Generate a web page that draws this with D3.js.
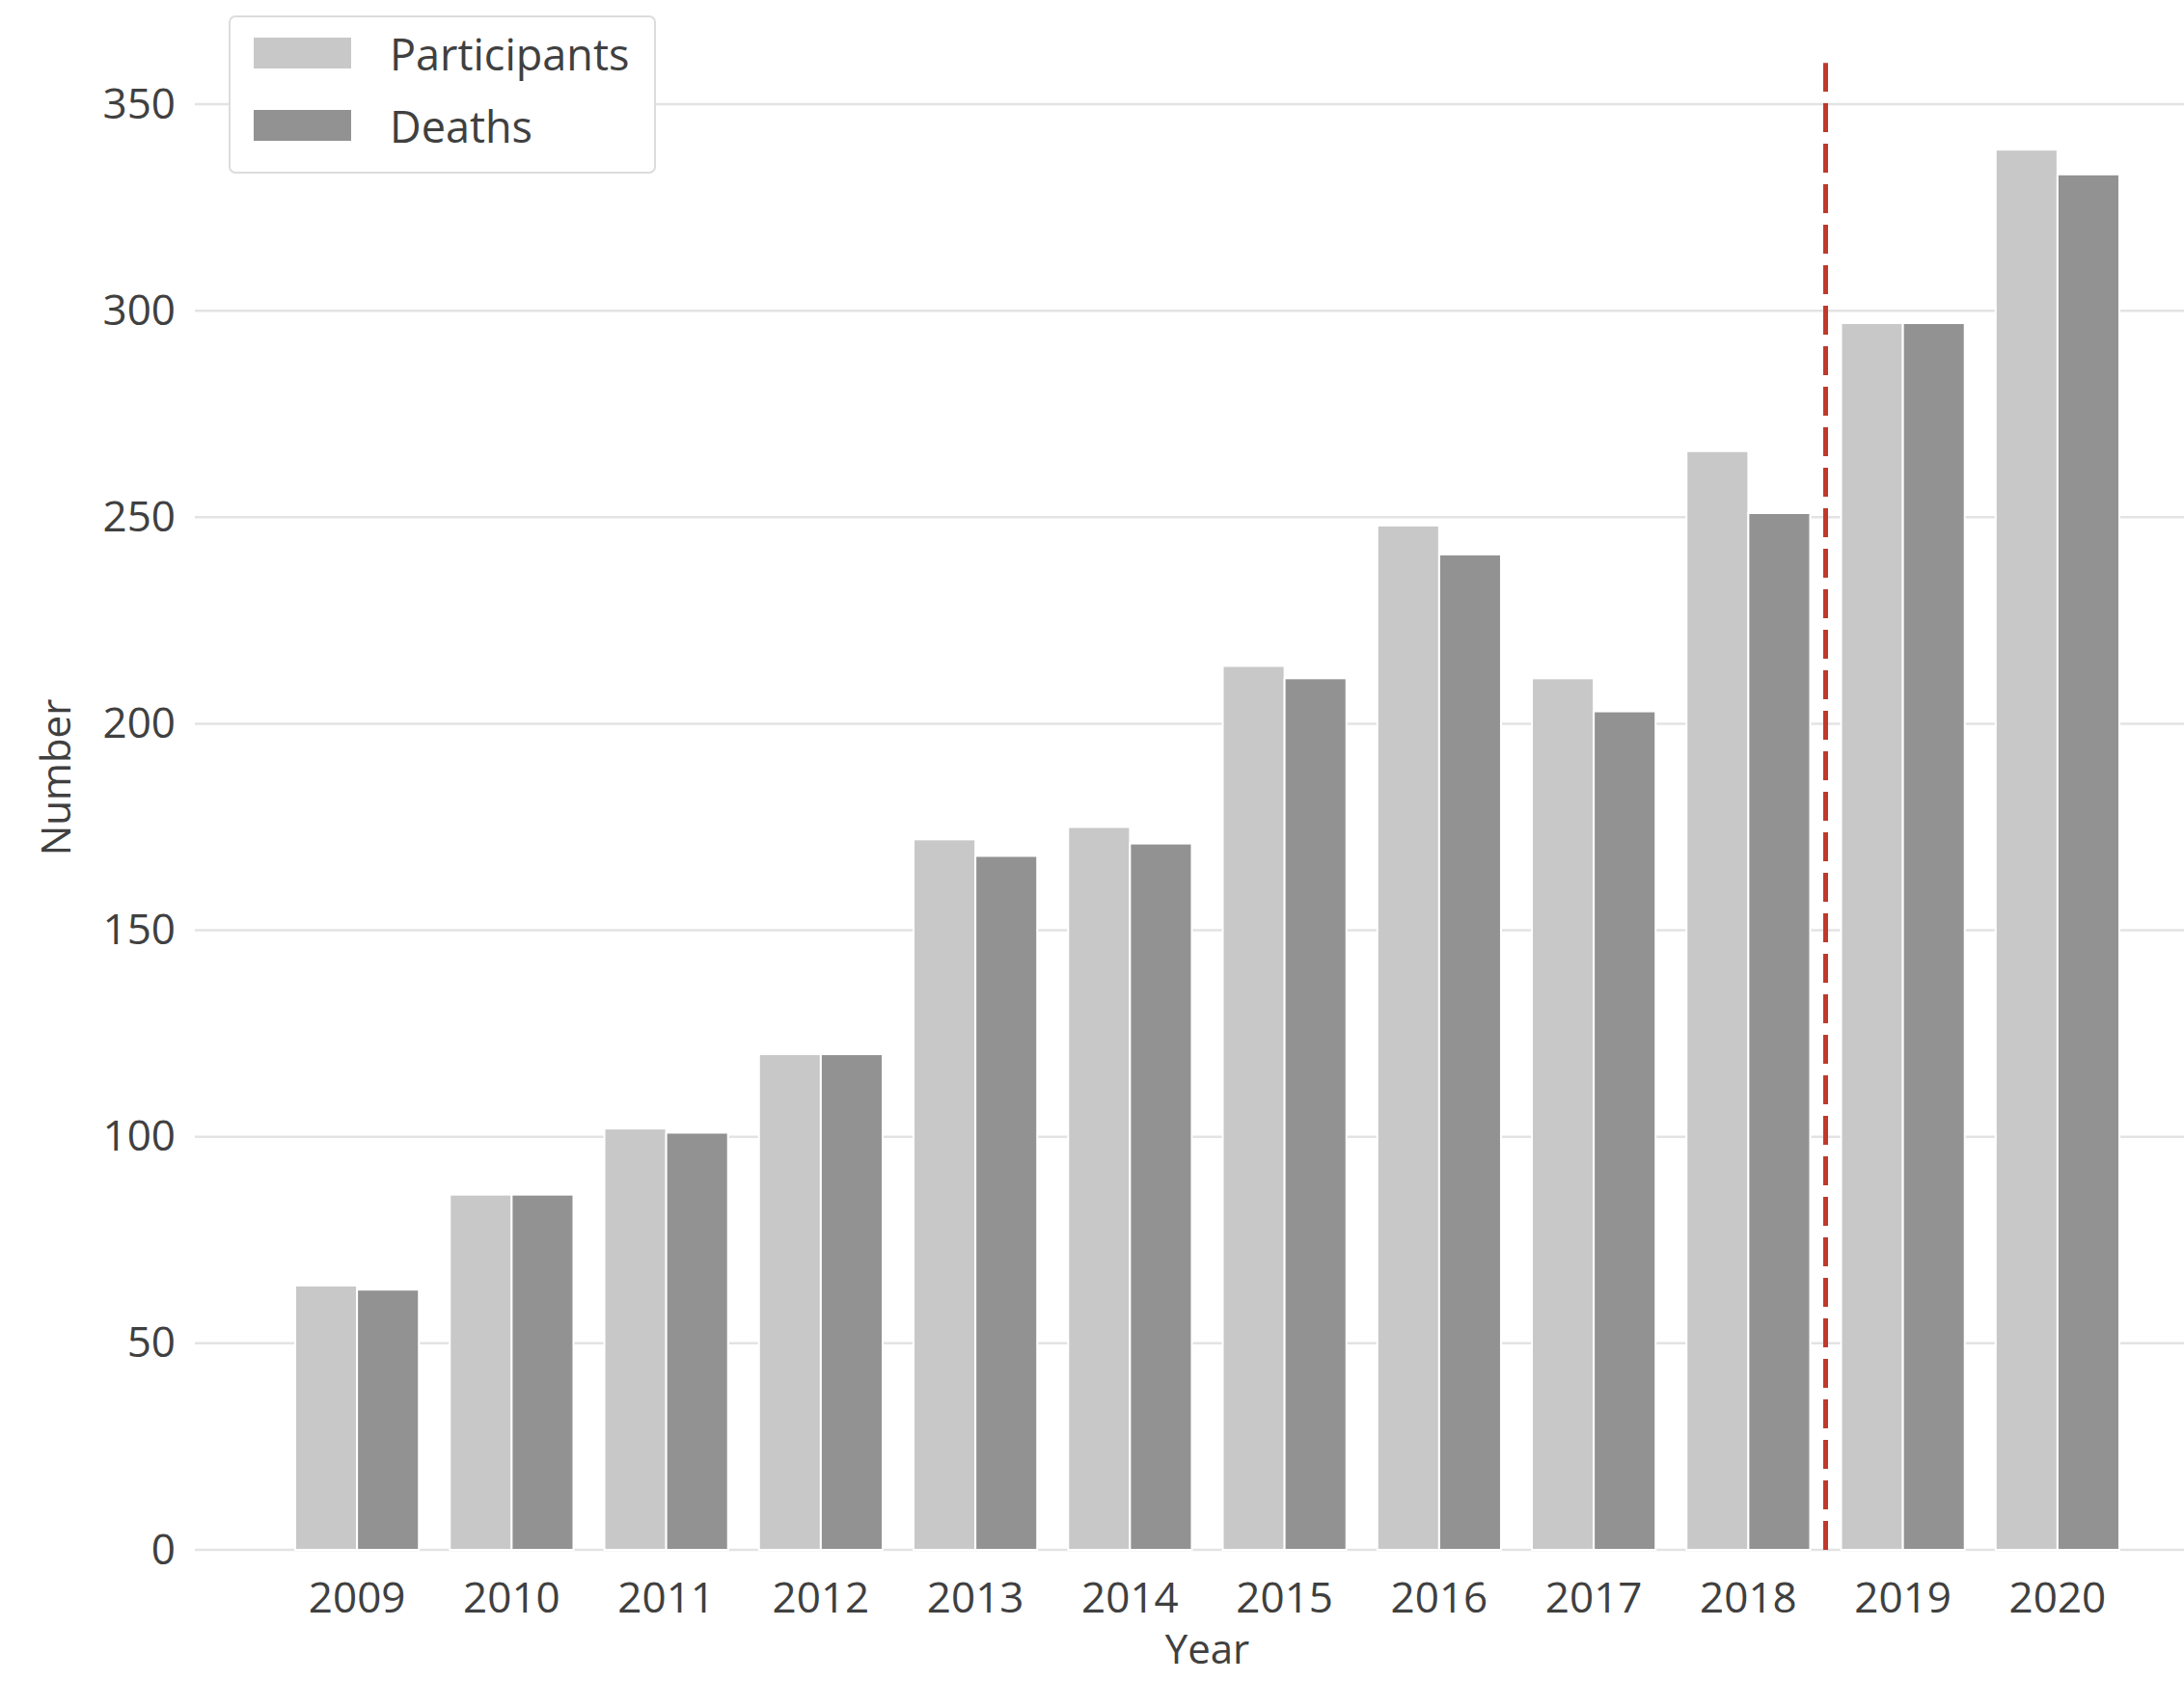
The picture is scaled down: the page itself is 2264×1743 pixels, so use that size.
<!DOCTYPE html>
<html>
<head>
<meta charset="utf-8">
<script src="https://cdn.jsdelivr.net/npm/d3@7"></script>
<style>
	body { margin: 0; background: #ffffff; }
	svg { display: block; }
	text { font-family: "Open Sans", sans-serif; fill: #404040; }
</style>
</head>
<body>
<svg id="chart" width="2264" height="1743"></svg>
<script>
// Data
const years = ["2009", "2010", "2011", "2012", "2013", "2014", "2015", "2016", "2017", "2018", "2019", "2020"];
const participants = [64, 86, 102, 120, 172, 175, 214, 248, 211, 266, 297, 339];
const deaths = [63, 86, 101, 120, 168, 171, 211, 241, 203, 251, 297, 333];
const seriesNames = ["Participants", "Deaths"];
const seriesColors = ["#c8c8c8", "#929292"];
const yTicks = [0, 50, 100, 150, 200, 250, 300, 350];
const markerBetween = ["2018", "2019"];
const markerTop = 360;


function drawChart(svgElement) {
	const svg = d3.select(svgElement);

	// Plot area
	const left = 290, right = 2213, top = 108, bottom = 1607;

	const x = d3.scaleBand()
		.domain(years)
		.range([left, right])
		.paddingInner(0.2)
		.paddingOuter(0.1);

	const xInner = d3.scaleBand()
		.domain(seriesNames)
		.range([0, x.bandwidth()]);

	const y = d3.scaleLinear()
		.domain([0, 350])
		.range([bottom, top]);

	// Horizontal grid lines
	svg.append("g")
		.selectAll("line")
		.data(yTicks)
		.join("line")
		.attr("x1", 202)
		.attr("x2", 2264)
		.attr("y1", d => y(d))
		.attr("y2", d => y(d))
		.attr("stroke", "#e3e3e3")
		.attr("stroke-width", 2.5);

	// Y axis, no domain line and no tick marks
	const yAxis = svg.append("g")
		.attr("transform", `translate(${182}, 0)`)
		.call(d3.axisLeft(y).tickValues(yTicks).tickSize(0).tickPadding(0));
	yAxis.select(".domain").remove();
	yAxis.selectAll("text")
		.style("font-size", "44px")
		.style("font-family", "'Open Sans', sans-serif")
		.attr("fill", "#404040");

	// X axis
	const xAxis = svg.append("g")
		.attr("transform", `translate(0, ${bottom})`)
		.call(d3.axisBottom(x).tickSize(0).tickPadding(34));
	xAxis.select(".domain").remove();
	xAxis.selectAll("text")
		.style("font-size", "44px")
		.style("font-family", "'Open Sans', sans-serif")
		.attr("fill", "#404040");

	// Bars, one group per year
	const rows = years.map((year, i) => ({ year, values: [participants[i], deaths[i]] }));

	svg.append("g")
		.selectAll("g")
		.data(rows)
		.join("g")
		.attr("transform", row => `translate(${x(row.year)}, 0)`)
		.selectAll("rect")
		.data(row => row.values.map((value, k) => ({ name: seriesNames[k], value, color: seriesColors[k] })))
		.join("rect")
		.attr("x", d => xInner(d.name))
		.attr("y", d => y(d.value))
		.attr("width", xInner.bandwidth())
		.attr("height", d => y(0) - y(d.value))
		.attr("fill", d => d.color)
		.attr("stroke", "#ffffff")
		.attr("stroke-width", 2);

	// Red dashed marker between 2018 and 2019
	const markerX = (x(markerBetween[0]) + x.bandwidth() + x(markerBetween[1])) / 2;
	svg.append("line")
		.attr("x1", markerX)
		.attr("x2", markerX)
		.attr("y1", y(0))
		.attr("y2", y(markerTop))
		.attr("stroke", "#c0392b")
		.attr("stroke-width", 5)
		.attr("stroke-dasharray", "30 12");

	// Axis titles
	svg.append("text")
		.attr("transform", `translate(${56}, ${806}) rotate(-90)`)
		.attr("text-anchor", "middle")
		.attr("dominant-baseline", "central")
		.style("font-size", "42px")
		.text("Number");

	svg.append("text")
		.attr("x", (left + right) / 2)
		.attr("y", 1708)
		.attr("text-anchor", "middle")
		.attr("dominant-baseline", "central")
		.style("font-size", "42px")
		.text("Year");

	// Legend
	const legend = svg.append("g").attr("transform", "translate(238, 17)");
	legend.append("rect")
		.attr("width", 441)
		.attr("height", 162)
		.attr("rx", 6)
		.attr("fill", "#ffffff")
		.attr("stroke", "#dcdcdc")
		.attr("stroke-width", 2);

	const legendItems = legend.selectAll("g.item")
		.data(seriesNames)
		.join("g")
		.attr("class", "item")
		.attr("transform", (d, i) => `translate(25, ${22 + i * 75})`);
	legendItems.append("rect")
		.attr("width", 101)
		.attr("height", 32)
		.attr("fill", (d, i) => seriesColors[i]);
	legendItems.append("text")
		.attr("x", 141)
		.attr("y", 16)
		.attr("dominant-baseline", "central")
		.style("font-size", "45px")
		.text(d => d);
}

drawChart(document.getElementById("chart"));
</script>
</body>
</html>
